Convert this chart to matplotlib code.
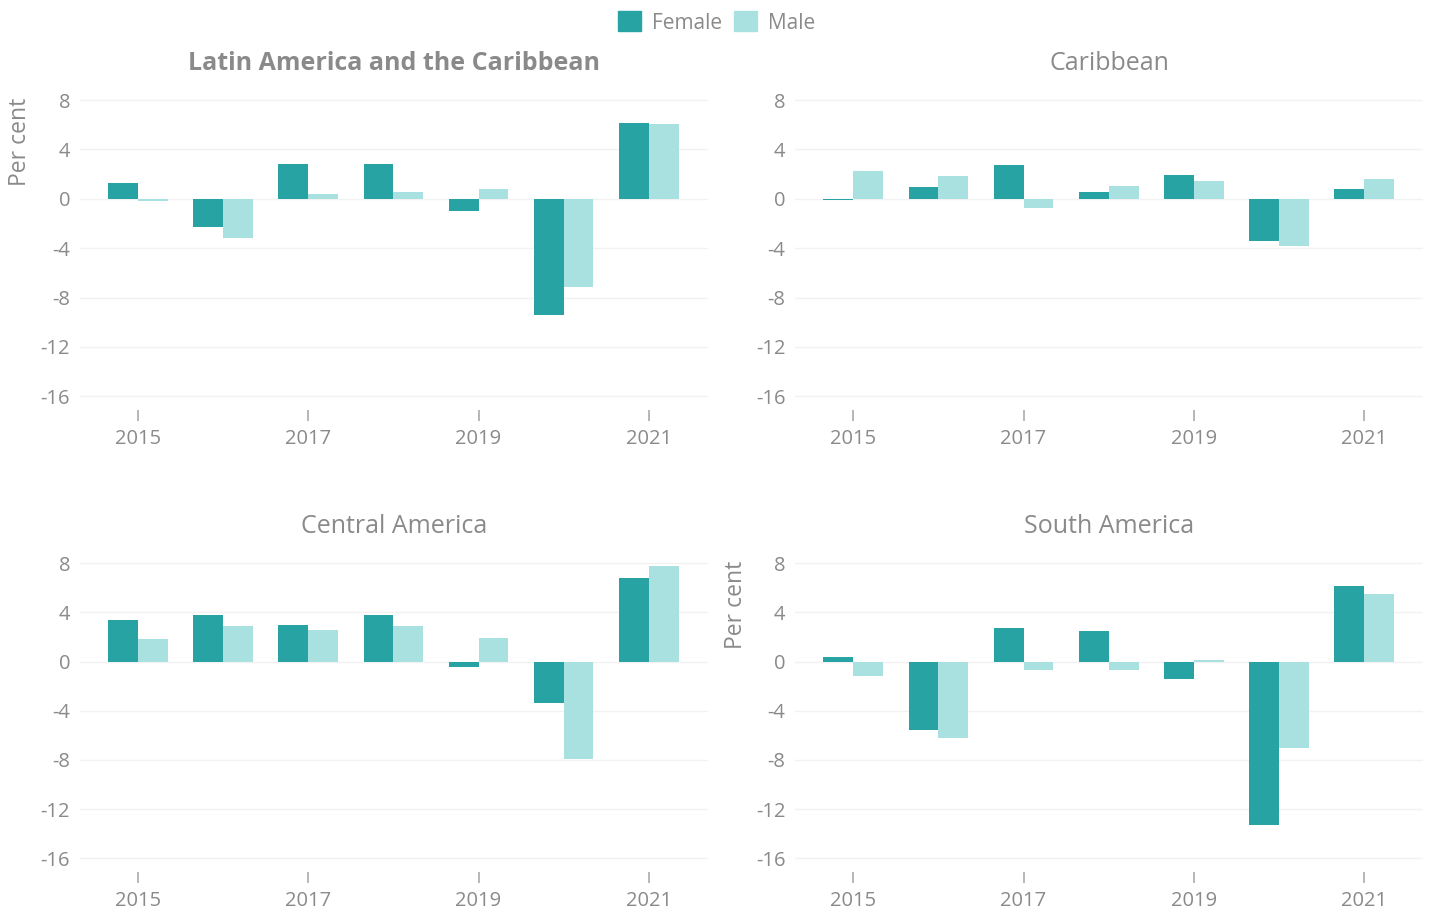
import numpy as np
import matplotlib.pyplot as plt
from matplotlib.patches import Patch

years = [2015, 2016, 2017, 2018, 2019, 2020, 2021]
tick_years = [2015, 2017, 2019, 2021]

regions = ["Latin America and the Caribbean", "Caribbean", "Central America", "South America"]

female_lac = [1.25, -2.3, 2.8, 2.8, -1.0, -9.4, 6.15]
male_lac = [-0.15, -3.2, 0.4, 0.55, 0.8, -7.15, 6.1]

female_car = [-0.1, 0.95, 2.75, 0.55, 1.9, -3.4, 0.8]
male_car = [2.25, 1.85, -0.75, 1.05, 1.45, -3.85, 1.6]

female_cam = [3.4, 3.8, 3.0, 3.75, -0.45, -3.4, 6.75]
male_cam = [1.85, 2.85, 2.6, 2.85, 1.95, -7.95, 7.8]

female_sam = [0.35, -5.6, 2.7, 2.5, -1.45, -13.3, 6.15]
male_sam = [-1.2, -6.25, -0.65, -0.7, 0.15, -7.0, 5.45]

female_vals = [female_lac, female_car, female_cam, female_sam]
male_vals = [male_lac, male_car, male_cam, male_sam]

c_female = "#27a3a3"
c_male = "#a9e1e0"
grey = "#8a8a8a"

plt.rcParams['font.family'] = ['Open Sans', 'DejaVu Sans']
plt.rcParams['axes.unicode_minus'] = False

fig = plt.figure(figsize=(14.33, 9.15), dpi=100)

# axes boxes in figure fractions: left, bottom, width, height
boxes = [
    [0.0558, 0.552, 0.438, 0.344],
    [0.555, 0.552, 0.438, 0.344],
    [0.0558, 0.047, 0.438, 0.343],
    [0.555, 0.047, 0.438, 0.343],
]

x = np.array(years)
w = 0.35

for i, region in enumerate(regions):
    ax = fig.add_axes(boxes[i])
    ax.bar(x - w / 2, female_vals[i], width=w, color=c_female, zorder=3)
    ax.bar(x + w / 2, male_vals[i], width=w, color=c_male, zorder=3)

    ax.set_xlim(2014.32, 2021.69)
    ax.set_ylim(-17.1, 8.4)
    ax.set_yticks([8, 4, 0, -4, -8, -12, -16])
    ax.set_xticks(tick_years)
    ax.grid(axis="y", color="#f2f2f2", linewidth=1, zorder=0)
    for s in ax.spines.values():
        s.set_visible(False)
    ax.tick_params(axis="y", length=0, labelsize=14.5, labelcolor=grey, pad=7)
    ax.tick_params(axis="x", length=8, width=1.2, color="#aaaaaa", labelsize=14.5,
                   labelcolor=grey, pad=6)

    weight = "bold" if i == 0 else "normal"
    ax.set_title(region, fontsize=18, color=grey, fontweight=weight, pad=18)

    if i in (0, 3):
        ax.set_ylabel("Per cent", fontsize=16.5, color=grey)
        ax.yaxis.set_label_coords(-0.076, 0.85)

handles = [Patch(color=c_female, label="Female"), Patch(color=c_male, label="Male")]
leg = fig.legend(handles=handles, loc="upper center", bbox_to_anchor=(0.5, 1.008), ncol=2,
                 frameon=False, fontsize=15, handlelength=1.1, handleheight=1.1,
                 handletextpad=0.5, columnspacing=0.6)
for t in leg.get_texts():
    t.set_color(grey)

fig.savefig("out.png", dpi=100)
